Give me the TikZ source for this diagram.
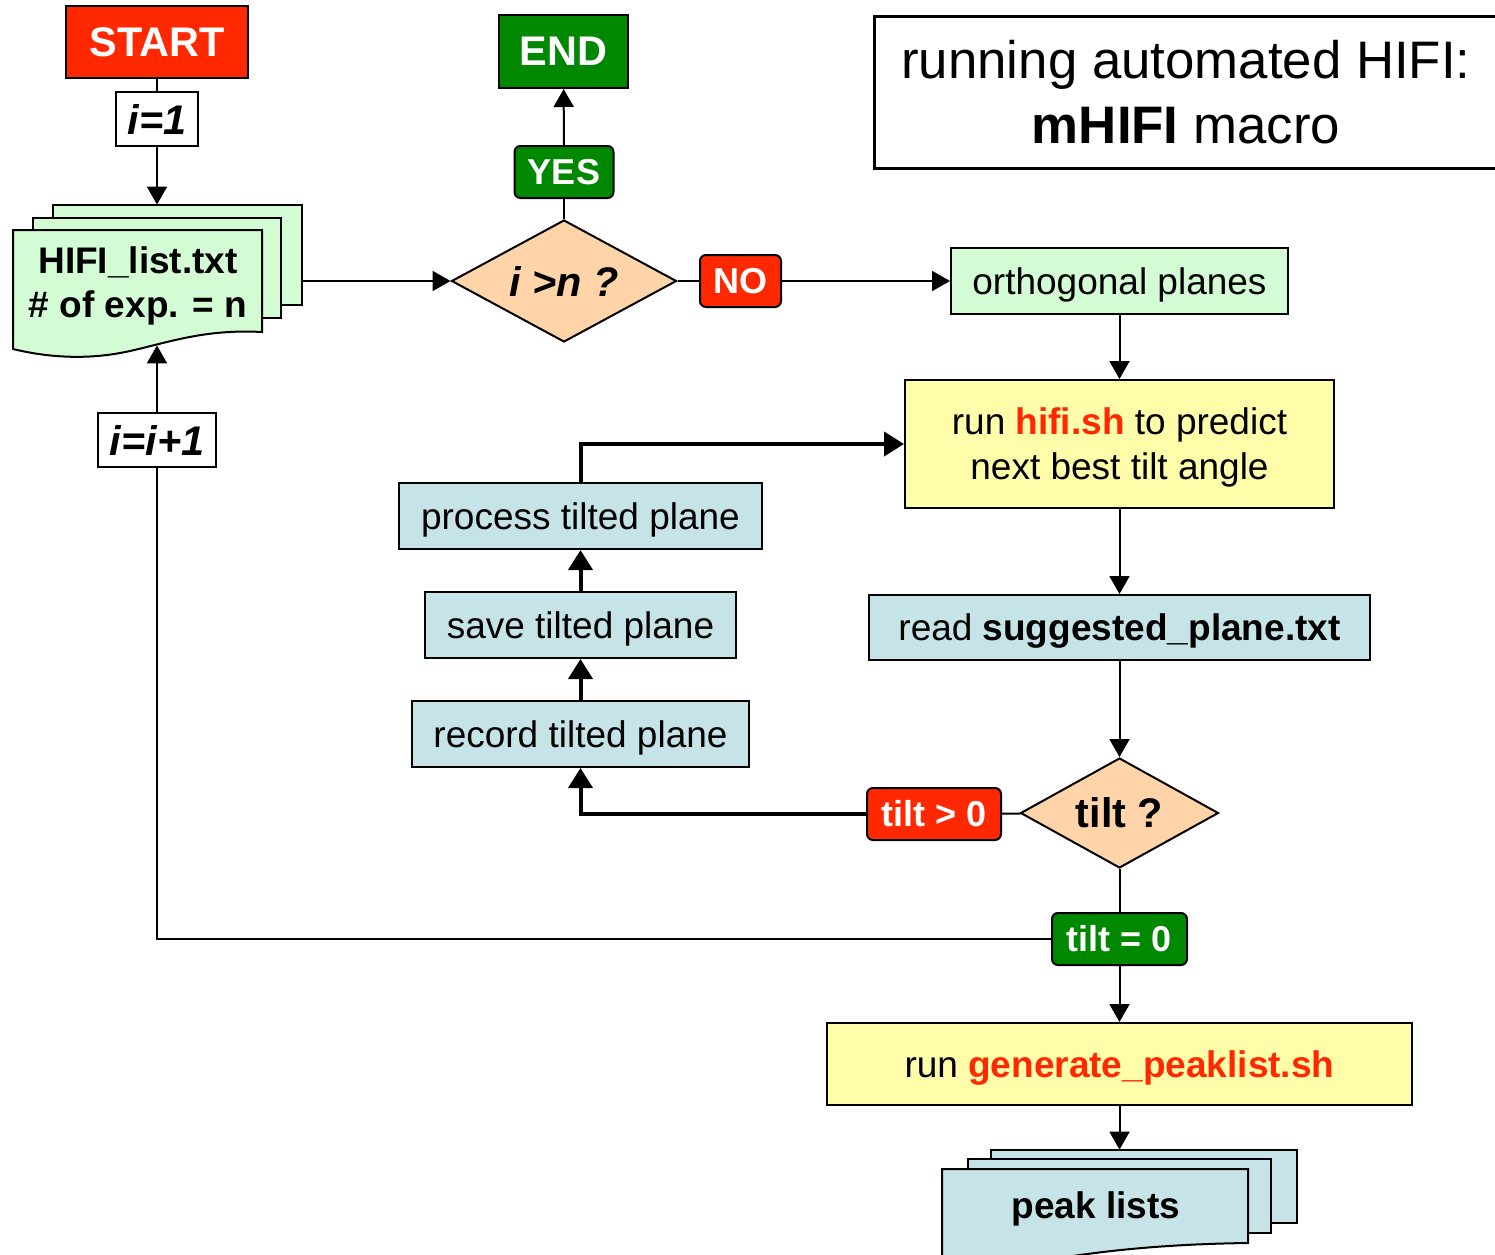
\documentclass[tikz,border=0pt]{standalone}
\usepackage{fontspec}
\setmainfont{Liberation Sans}
\usetikzlibrary{arrows.meta}
\usetikzlibrary{shapes.geometric}
\usetikzlibrary{positioning}

\definecolor{hred}{RGB}{255,40,0}
\definecolor{hgreen}{RGB}{0,136,0}
\definecolor{hpeach}{RGB}{255,212,168}
\definecolor{hmint}{RGB}{212,252,212}
\definecolor{hyellow}{RGB}{255,252,170}
\definecolor{hblue}{RGB}{198,228,232}

\begin{document}
\begin{tikzpicture}[x=0.5pt,y=-0.5pt,
  every node/.style={inner sep=0pt,font=\fontsize{18.5}{22.5}\selectfont},
  box/.style={draw,line width=1pt,minimum height=33pt,text depth=0pt},
  flag/.style={draw,line width=1pt,rounded corners=3pt,text=white,minimum height=26pt,font=\fontsize{18}{22}\selectfont\bfseries},
  term/.style={draw,line width=1pt,text=white,font=\fontsize{20.7}{24}\selectfont\bfseries},
  count/.style={draw,line width=1pt,fill=white,minimum height=27pt,font=\fontsize{20.7}{24}\selectfont\bfseries\itshape},
  ask/.style={draw,line width=1pt,diamond,aspect=2,fill=hpeach,font=\fontsize{20.7}{24}\selectfont\bfseries},
  page/.style={draw,line width=1pt},
  link/.style={line width=1pt},
  arr/.style={line width=1pt,-{Triangle[length=9pt,width=10pt]}},
  thickarr/.style={line width=2pt,-{Triangle[length=10pt,width=12pt]}}]

\useasboundingbox[fill=white] (0,0) rectangle (1495,1254);

% title
\node[draw,line width=1.5pt,minimum width=312pt,minimum height=76pt,align=center,text depth=0pt,
  font=\fontsize{26.4}{32.5}\selectfont] (title) at (1186,92)
  {running automated HIFI:\\\textbf{mHIFI} macro};

% start / end
\node[term,fill=hred,minimum width=91pt,minimum height=36pt] (start) at (157,42) {START};
\node[term,fill=hgreen,minimum width=64.5pt,minimum height=36.5pt] (end) at (563.5,51.5) {END};
\node[count,minimum width=41pt] (ione) at (157,119) {i=1};

% input file stack
\draw[page,fill=hmint] (53,205) rectangle (302,305);
\draw[page,fill=hmint] (33,218) rectangle (281,318);
\draw[page,fill=hmint] (13,230) -- (262,230) -- (262,332)
  .. controls (205,329) and (170,342) .. (130,351)
  .. controls (90,360) and (50,358) .. (13,349) -- cycle;
\node[minimum width=144.5pt,minimum height=70pt] (list) at (157,275) {};
\node[align=center,font=\fontsize{18.5}{22}\selectfont\bfseries] (listtxt) at (138,286)
  {HIFI\_list.txt\\\# of exp. = n};

% first decision
\node[ask,minimum width=112.5pt,minimum height=61pt,font=\fontsize{20.7}{24}\selectfont\bfseries\itshape] (more) at (564,281) {i >n ?};
\node[flag,fill=hgreen,minimum width=49.5pt] (yes) at (564,172) {YES};
\node[flag,fill=hred,minimum width=40.5pt] (no) at (740.5,281) {NO};

% main column
\node[box,fill=hmint,minimum width=168.5pt] (ortho) at (1119.5,281) {orthogonal planes};
\node[box,fill=hyellow,minimum width=214.5pt,minimum height=64pt,align=center] (hifi) at (1119.5,444)
  {run \textcolor{hred}{\bfseries hifi.sh} to predict\\next best tilt angle};
\node[box,fill=hblue,minimum width=250.5pt,minimum height=32.5pt] (read) at (1119.5,627.5)
  {read \textbf{suggested\_plane.txt}};
\node[ask,minimum width=99pt,minimum height=55pt] (tilt) at (1119.5,813) {tilt ?};
\node[flag,fill=hred,minimum width=67pt] (tiltpos) at (934,814) {tilt > 0};
\node[flag,fill=hgreen,minimum width=67.5pt] (tiltzero) at (1119.5,939) {tilt = 0};
\node[box,fill=hyellow,minimum width=292.5pt,minimum height=41pt] (gen) at (1119.5,1064)
  {run \textcolor{hred}{\bfseries generate\_peaklist.sh}};

% tilted plane loop
\node[box,fill=hblue,minimum width=181.5pt] (process) at (580.5,516) {process tilted plane};
\node[box,fill=hblue,minimum width=155.5pt] (save) at (580.5,625) {save tilted plane};
\node[box,fill=hblue,minimum width=168.5pt] (record) at (580.5,734) {record tilted plane};

\node[count,minimum width=59pt] (iinc) at (157,440) {i=i+1};

% output stack
\draw[page,fill=hblue] (991,1150) rectangle (1297,1223);
\draw[page,fill=hblue] (968,1159) rectangle (1271,1233);
\draw[page,fill=hblue] (942,1169) -- (1248,1169) -- (1248,1243)
  .. controls (1170,1244) and (1110,1250) .. (1060,1258)
  -- (942,1262) -- cycle;
\node[minimum width=177.5pt,minimum height=52pt] (peak) at (1119.5,1202) {};
\node[font=\fontsize{18.5}{22}\selectfont\bfseries] (peaktxt) at (1096,1209) {peak lists};

% connectors
\draw[link] (start) -- (ione);
\draw[arr] (ione) -- (list.north);
\draw[arr] (list.east |- more.west) -- (more.west);
\draw[link] (more) -- (yes);
\draw[arr] (yes) -- (end);
\draw[link] (more) -- (no);
\draw[arr] (no) -- (ortho);
\draw[arr] (ortho) -- (hifi);
\draw[arr] (hifi) -- (read);
\draw[arr] (read) -- (tilt);
\draw[link] (tilt) -- (tiltpos);
\draw[thickarr] (tiltpos.west) -| (record.south);
\draw[thickarr] (record) -- (save);
\draw[thickarr] (save) -- (process);
\draw[thickarr] (process.north) |- (hifi.west);
\draw[link] (tilt) -- (tiltzero);
\draw[link] (tiltzero.west) -| (iinc.south);
\draw[arr] (iinc) -- (list.south);
\draw[arr] (tiltzero) -- (gen);
\draw[arr] (gen) -- (peak.north);

\end{tikzpicture}
\end{document}
